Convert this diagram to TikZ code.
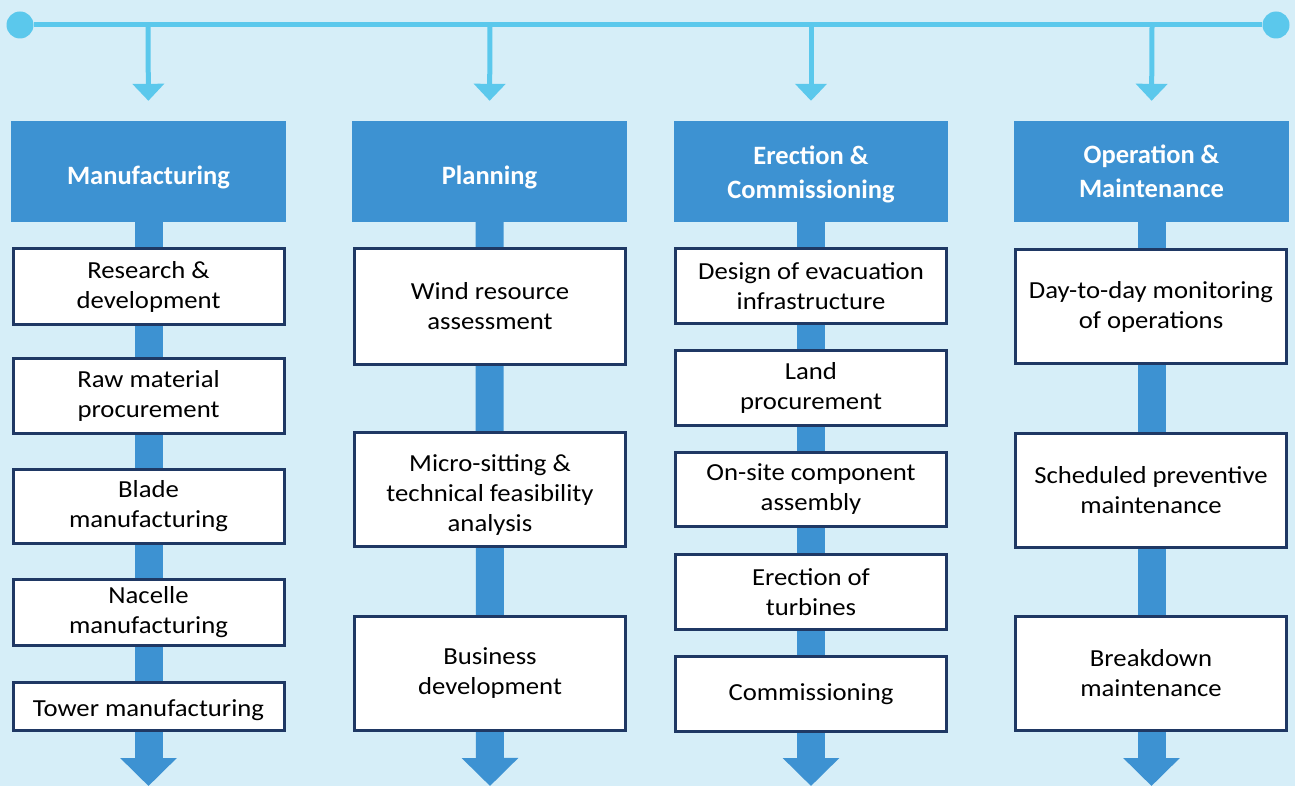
\documentclass[tikz,border=0pt]{standalone}
\usepackage{fontspec}
\setmainfont{Carlito}
\newfontfamily\bodyfont{Carlito}[FakeStretch=1.09]
\usetikzlibrary{arrows.meta,backgrounds}
\definecolor{bgc}{HTML}{D6EEF8}
\definecolor{linec}{HTML}{5BC8EC}
\definecolor{headc}{HTML}{3D92D2}
\definecolor{navy}{HTML}{1F3864}
\begin{document}
\begin{tikzpicture}[x=1pt,y=-1pt,
  header/.style={fill=headc, text=white, font=\bfseries\fontsize{26.5}{34}\selectfont,
    align=center, minimum width=275pt, minimum height=101pt, inner sep=0pt},
  oneline/.style={text height=27pt, text depth=0pt},
  stepbox/.style={draw=navy, line width=3pt, fill=white, text=black,
    font=\bodyfont\fontsize{24.5}{30}\selectfont, align=center, minimum width=271pt,
    inner sep=0pt},
  shaft/.style={draw=headc, line width=28pt, -{Triangle[width=55pt,length=28pt]}},
  topline/.style={draw=linec, line width=5pt},
  droparrow/.style={draw=linec, line width=5pt, -{Triangle[width=31pt,length=17pt]}, shorten >=20pt},
  dot/.style={circle, fill=linec, minimum size=27pt, inner sep=0pt}]
\useasboundingbox (0,0) rectangle (1295,786);

% headers
\node[header, oneline] (h1) at (148.5,171.5) {Manufacturing};
\node[header, oneline] (h2) at (489.5,171.5) {Planning};
\node[header, minimum width=274pt] (h3) at (811,171.5) {\rule{0pt}{24pt}Erection \&\\Commissioning};
\node[header] (h4) at (1151.5,171.5) {Operation \&\\Maintenance};

% column 1
\node[stepbox, minimum height=76pt] (m1) at (148.5,286.5) {Research \&\\development};
\node[stepbox, minimum height=75pt] (m2) at (148.5,396) {Raw material\\procurement};
\node[stepbox, minimum height=74pt] (m3) at (148.5,506.5) {Blade\\manufacturing};
\node[stepbox, minimum height=66pt] (m4) at (148.5,612.5) {Nacelle\\manufacturing};
\node[stepbox, minimum height=48pt, text height=19pt, text depth=0pt] (m5) at (148.5,706.5) {Tower manufacturing};

% column 2
\node[stepbox, minimum height=116pt] (p1) at (490,306.5) {Wind resource\\assessment};
\node[stepbox, minimum height=114pt] (p2) at (490,489.5) {\rule{0pt}{28pt}Micro-sitting \&\\technical feasibility\\analysis};
\node[stepbox, minimum height=114pt] (p3) at (490,673.5) {Business\\development};

% column 3
\node[stepbox, minimum height=75pt] (e1) at (811,286) {Design of evacuation\\infrastructure};
\node[stepbox, minimum height=75pt] (e2) at (811,388) {Land\\procurement};
\node[stepbox, minimum height=74pt] (e3) at (811,489.5) {On-site component\\assembly};
\node[stepbox, minimum height=75pt] (e4) at (811,592) {Erection of\\turbines};
\node[stepbox, minimum height=75pt] (e5) at (811,694) {Commissioning};

% column 4
\node[stepbox, minimum height=114pt] (o1) at (1151,306.5) {Day-to-day monitoring\\of operations};
\node[stepbox, minimum height=114pt] (o2) at (1151,490.5) {Scheduled preventive\\maintenance};
\node[stepbox, minimum height=114pt] (o3) at (1151,673.5) {Breakdown\\maintenance};

% coordinates
\coordinate (t1) at (148,25);
\coordinate (t2) at (490,25);
\coordinate (t3) at (811,25);
\coordinate (t4) at (1152,25);
\coordinate (z1) at (148.5,786);
\coordinate (z2) at (490,786);
\coordinate (z3) at (811,786);
\coordinate (z4) at (1151.5,786);

\begin{pgfonlayer}{background}
  \fill[bgc] (0,0) rectangle (1295,786);
  \node[dot] (dl) at (20,25) {};
  \node[dot] (dr) at (1276,25) {};
  \draw[topline] (dl) -- (dr);
  \draw[droparrow] (t1) -- (h1.north);
  \draw[droparrow] (t2) -- (h2.north);
  \draw[droparrow] (t3) -- (h3.north);
  \draw[droparrow] (t4) -- (h4.north);
  \draw[shaft] (h1.south) -- (z1);
  \draw[shaft] (h2.south) -- (z2);
  \draw[shaft] (h3.south) -- (z3);
  \draw[shaft] (h4.south) -- (z4);
\end{pgfonlayer}
\end{tikzpicture}
\end{document}
